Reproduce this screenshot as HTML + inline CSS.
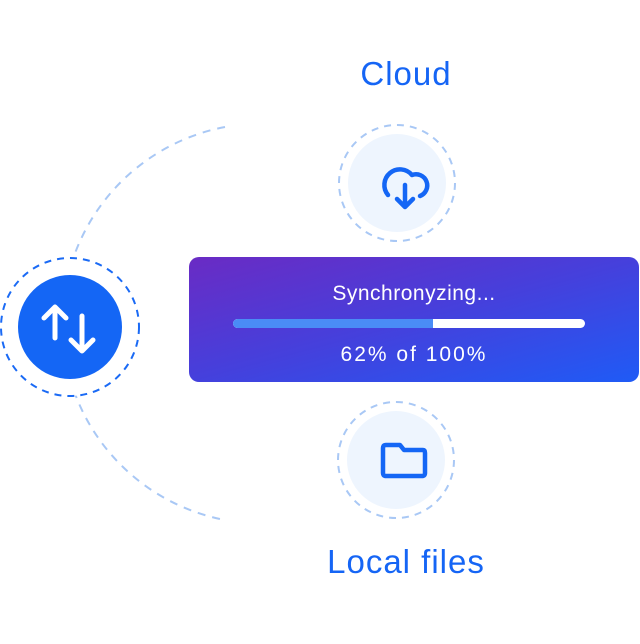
<!DOCTYPE html>
<html><head><style>
body{margin:0;width:640px;height:644px;background:#fff;overflow:hidden;position:relative;font-family:"Liberation Sans",sans-serif}
.t{position:absolute;color:#1565f5;font-size:33px;text-align:center;letter-spacing:1px}
.box{position:absolute;left:189px;top:257px;width:450px;height:125px;border-radius:10px;background:linear-gradient(165deg,#6a2bc4 0%,#4540dc 50%,#1f5bf6 100%)}
.w{position:absolute;color:#fff;font-size:21px;width:100%;text-align:center}
</style></head><body>
<svg width="640" height="644" style="position:absolute;left:0;top:0">
<path d="M225 127 A200 200 0 0 0 225 520" fill="none" stroke="#a9c8f5" stroke-width="2" stroke-dasharray="8 7"/>
<circle cx="70" cy="327" r="69" fill="#fff" stroke="#1a6af5" stroke-width="2" stroke-dasharray="7 6"/>
<circle cx="70" cy="327" r="52" fill="#1466f5"/>
<g stroke="#fff" stroke-width="5" stroke-linecap="round" stroke-linejoin="round" fill="none">
<path d="M55 338V307M44 318L55 307L66 318"/>
<path d="M82 316V351M71 340L82 351L93 340"/>
</g>
<circle cx="397" cy="183" r="58" fill="none" stroke="#a9c8f5" stroke-width="2" stroke-dasharray="7 6"/>
<circle cx="397" cy="183" r="49" fill="#eef5fe"/>
<g stroke="#1466f5" stroke-width="4.5" stroke-linecap="round" stroke-linejoin="round" fill="none">
<path d="M388 195A15 15 0 1 1 412 175A10 10 0 0 1 420 196"/>
<path d="M405 185V207M397 199L405 207L413 199"/>
</g>
<circle cx="396" cy="460" r="58" fill="none" stroke="#a9c8f5" stroke-width="2" stroke-dasharray="7 6"/>
<circle cx="396" cy="460" r="49" fill="#eef5fe"/>
<path d="M383 448Q383 445 386 445H400L404 450H423Q425 450 425 453V473Q425 476 422 476H386Q383 476 383 473Z" fill="none" stroke="#1466f5" stroke-width="4.5" stroke-linejoin="round"/>
</svg>
<div class="t" style="left:306px;top:55px;width:200px">Cloud</div>
<div class="t" style="left:286px;top:543px;width:240px">Local files</div>
<div class="box">
<div class="w" style="top:25px;letter-spacing:0.5px">Synchronyzing...</div>
<div style="position:absolute;left:44px;top:62px;width:352px;height:9px;border-radius:5px;background:#fff;overflow:hidden"><div style="width:200px;height:9px;background:#4a8cf6"></div></div>
<div class="w" style="top:86px;letter-spacing:2px">62% of 100%</div>
</div>
</body></html>
